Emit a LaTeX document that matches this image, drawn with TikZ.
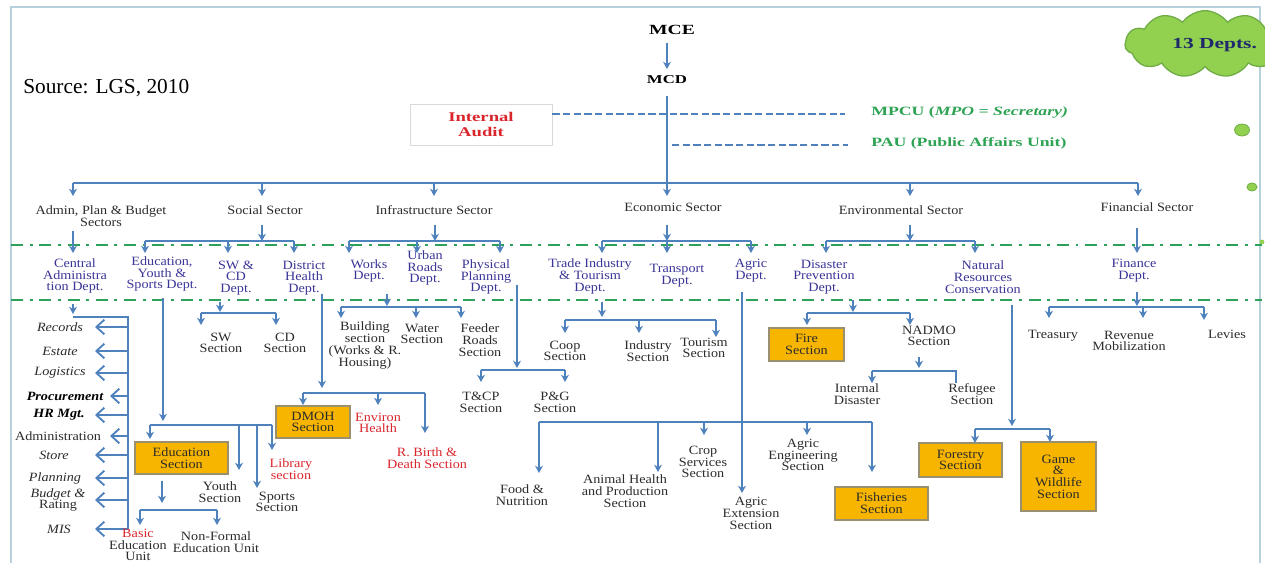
\documentclass[tikz,border=0pt]{standalone}
\usepackage{fontspec}
\setmainfont{Liberation Serif}[FakeStretch=1.12]
\newfontfamily\srcfont{Liberation Serif}
\newfontfamily\bwide{Liberation Serif}[FakeStretch=1.4]
\usetikzlibrary{arrows.meta,shapes.symbols}
\definecolor{cline}{HTML}{4F81BD}
\definecolor{gdash}{HTML}{2DA05A}
\definecolor{deptc}{HTML}{3A3596}
\definecolor{txt}{HTML}{2B2B2B}
\definecolor{redc}{HTML}{D9262C}
\definecolor{grn}{HTML}{2EA354}
\definecolor{boxf}{HTML}{F7B500}
\definecolor{boxb}{HTML}{9A9070}
\definecolor{cloudf}{HTML}{92D050}
\definecolor{cloudd}{HTML}{70AD47}
\definecolor{navy}{HTML}{1F2A6B}
\definecolor{framec}{HTML}{B7D0DE}
\begin{document}
\begin{tikzpicture}[x=0.75pt,y=-0.75pt,
  ln/.style={draw=cline, line width=1.4pt},
  arr/.style={ln, -{Stealth[length=5.5pt,width=6pt]}},
  barb/.style={ln, -{Straight Barb[length=6pt,width=11pt]}},
  dsh/.style={draw=cline, line width=1pt, dash pattern=on 5.5pt off 2.5pt},
  gdl/.style={draw=gdash, line width=2.2pt, dash pattern=on 9pt off 5pt on 2.2pt off 5pt},
  lab/.style={inner sep=0pt, align=center, text=txt, font=\fontsize{9.5}{8.8}\selectfont},
  dept/.style={lab, text=deptc},
  redl/.style={lab, text=redc},
  itl/.style={lab, font=\fontsize{9.5}{8.8}\selectfont\itshape},
  bil/.style={lab, text=black, font=\fontsize{9.5}{8.8}\selectfont\bfseries\itshape},
  obox/.style={draw=boxb, fill=boxf, line width=0.8pt, inner sep=0pt, align=center, text=txt, font=\fontsize{9.5}{8.8}\selectfont},
  hd/.style={inner sep=0pt, align=center, text=black, font={\bwide\bfseries\fontsize{10.5}{12}\selectfont}}
]
\useasboundingbox (0,0) rectangle (1265,563);
% frame
\draw[draw=framec, line width=0.8pt] (11,575) -- (11,7) -- (1260,7) -- (1260,575);

% cloud and bubbles
\node[cloud, cloud puffs=11, cloud puff arc=110, aspect=2.3, draw=cloudd, fill=cloudf, line width=1pt, minimum width=120pt, minimum height=50pt, inner sep=0pt] (cl) at (1205,44) {};
\node[anchor=west, inner sep=0pt, text=navy, font={\bwide\bfseries\fontsize{11.5}{14}\selectfont}] (deps) at (1172,45) {13 Depts.};
\fill[cloudf, draw=cloudd, line width=0.6pt] (1242,130) ellipse [x radius=5.6pt, y radius=4.5pt];
\fill[cloudf, draw=cloudd, line width=0.6pt] (1252,187) ellipse [x radius=3.8pt, y radius=3pt];
\fill[cloudf] (1262,242) circle [radius=1.8pt];

% green dash-dot separators
\draw[gdl] (11,245) -- (1262,245);
\draw[gdl] (11,300) -- (1262,300);

% top
\node[hd] (mce) at (672,30) {MCE};
\node[hd, font={\bwide\bfseries\fontsize{9}{11}\selectfont}] (mcd) at (667,80) {MCD};
\node[anchor=west, inner sep=0pt, text=black, font={\srcfont\fontsize{16}{19}\selectfont}] (src) at (23,88) {Source: LGS, 2010};
\node[draw=black!15, line width=0.6pt, minimum width=106.5pt, minimum height=30.75pt, inner sep=0pt, align=center, text=redc, font={\bwide\bfseries\fontsize{10}{11.25}\selectfont}] (audit) at (481,124.5) {Internal\\Audit};
\node[anchor=west, inner sep=0pt, text=grn, font={\bwide\bfseries\fontsize{9.5}{11}\selectfont}] (mpcu) at (871,112) {MPCU (\textit{MPO = Secretary)}};
\node[anchor=west, inner sep=0pt, text=grn, font={\bwide\bfseries\fontsize{9.5}{11}\selectfont}] (pau) at (871,143) {PAU (Public Affairs Unit)};

\draw[arr, shorten <=6pt, shorten >=5pt] (mcd.north |- mce.south) -- (mcd.north);
\path (845,114) coordinate (mpcuend) (672,145) coordinate (pausta) (848,145) coordinate (pauend);
\draw[dsh] (audit.east |- mpcuend) -- (mpcuend);
\draw[dsh] (pausta) -- (pauend);

% main bus
\path (667,183) coordinate (bus0) (73,183) coordinate (bus0L) (1138,183) coordinate (bus0R);
\path (73,196) coordinate (ts1) (262,196) coordinate (ts2) (434,196) coordinate (ts3)
      (667,196) coordinate (ts4) (910,196) coordinate (ts5) (1138,196) coordinate (ts6);
\draw[ln, shorten <=9pt] (mcd.south) -- (bus0);
\draw[ln] (bus0L) -- (bus0R);
\foreach \i in {1,...,6} \draw[arr] (ts\i |- bus0) -- (ts\i);

% sectors
\node[lab] (adm) at (101,216) {Admin, Plan \& Budget\\Sectors};
\node[lab] (soc) at (265,210) {Social Sector};
\node[lab] (inf) at (434,210) {Infrastructure Sector};
\node[lab] (eco) at (673,207) {Economic Sector};
\node[lab] (env) at (901,210) {Environmental Sector};
\node[lab] (fin) at (1147,207) {Financial Sector};

% departments
\node[dept] (cad) at (75,276) {Central\\Administra\\tion Dept.};
\node[dept] (eys) at (162,274) {Education,\\Youth \&\\Sports Dept.};
\node[dept] (swcd) at (236,278) {SW \&\\CD\\Dept.};
\node[dept] (dhd) at (304,278) {District\\Health\\Dept.};
\node[dept] (wd) at (369,271) {Works\\Dept.};
\node[dept] (urd) at (425,268) {Urban\\Roads\\Dept.};
\node[dept] (ppd) at (486,277) {Physical\\Planning\\Dept.};
\node[dept] (titd) at (590,276.5) {Trade Industry\\\& Tourism\\Dept.};
\node[dept] (trd) at (677,276) {Transport\\Dept.};
\node[dept] (agd) at (751,271) {Agric\\Dept.};
\node[dept] (dpd) at (824,277) {Disaster\\Prevention\\Dept.};
\node[dept] (nrc) at (983,277) {Natural\\Resources\\Conservation};
\node[dept] (fnd) at (1134,271) {Finance\\Dept.};

% sector -> department connectors
\path (73,253) coordinate (td1)
      (262,241) coordinate (sbus) (145,241) coordinate (sbL) (294,241) coordinate (sbR)
      (145,253) coordinate (td2) (228,253) coordinate (td3) (294,253) coordinate (td4)
      (435,241) coordinate (ibus) (349,241) coordinate (ibL) (500,241) coordinate (ibR)
      (349,253) coordinate (td5) (417,253) coordinate (td6) (500,253) coordinate (td7)
      (667,241) coordinate (ebus) (602,241) coordinate (ebL) (751,241) coordinate (ebR)
      (602,253) coordinate (td8) (667,253) coordinate (td9) (751,253) coordinate (td10)
      (910,241) coordinate (vbus) (826,241) coordinate (vbL) (975,241) coordinate (vbR)
      (826,253) coordinate (td11) (975,253) coordinate (td12)
      (1137,253) coordinate (td13);
\draw[arr, shorten <=3pt] (td1 |- adm.south) -- (td1);
\draw[arr, shorten <=8pt] (sbus |- soc.south) -- (sbus);
\draw[ln] (sbL) -- (sbR);
\foreach \i in {2,3,4} \draw[arr] (td\i |- sbus) -- (td\i);
\draw[arr, shorten <=8pt] (ibus |- inf.south) -- (ibus);
\draw[ln] (ibL) -- (ibR);
\foreach \i in {5,6,7} \draw[arr] (td\i |- ibus) -- (td\i);
\draw[arr, shorten <=10pt] (ebus |- eco.south) -- (ebus);
\draw[ln] (ebL) -- (ebR);
\foreach \i in {8,9,10} \draw[arr] (td\i |- ebus) -- (td\i);
\draw[arr, shorten <=8pt] (vbus |- env.south) -- (vbus);
\draw[ln] (vbL) -- (vbR);
\foreach \i in {11,12} \draw[arr] (td\i |- vbus) -- (td\i);
\draw[arr, shorten <=12pt] (td13 |- fin.south) -- (td13);

% ---------- Admin list ----------
\node[itl] (rec) at (60,327) {Records};
\node[itl] (est) at (60,351) {Estate};
\node[itl] (lgs) at (60,373) {Logistics};
\node[bil] (pro) at (65,396) {Procurement};
\node[bil] (hrm) at (59,415) {HR Mgt.};
\node[lab] (adn) at (58,436) {Administration};
\node[itl] (sto) at (54,455) {Store};
\node[itl] (pla) at (55,478) {Planning};
\node[lab] (bud) at (58,500) {\textit{Budget \&}\\Rating};
\node[itl] (mis) at (59,529) {MIS};
\path (73,314) coordinate (cadA) (128,317) coordinate (barT) (128,529) coordinate (barB)
      (95,0) coordinate (tipA) (110,0) coordinate (tipB);
\draw[arr, shorten <=8pt] (cadA |- cad.south) -- (cadA);
\draw[ln] (cadA |- barT) -- (barT) -- (barB);
\foreach \n in {rec,est,lgs,hrm,sto,pla,bud,mis} \draw[barb] (barT |- \n) -- (tipA |- \n);
\foreach \n in {pro,adn} \draw[barb] (barT |- \n) -- (tipB |- \n);

% ---------- Education ----------
\node[obox, minimum width=69.75pt, minimum height=24pt] (edusec) at (181.5,458) {Education\\Section};
\node[lab] (basic) at (138,545) {\textcolor{redc}{Basic}\\Education\\Unit};
\node[lab] (nfe) at (216,542) {Non-Formal\\Education Unit};
\node[lab] (youth) at (220,492) {Youth\\Section};
\node[lab] (sports) at (277,502) {Sports\\Section};
\node[redl] (lib) at (291,469) {Library\\section};
\path (163,421) coordinate (eA) (150,425) coordinate (ebus1) (272,425) coordinate (ebus2)
      (150,439) coordinate (te1) (239,470) coordinate (te2) (257,488) coordinate (te3) (272,450) coordinate (te4)
      (162,503) coordinate (te5) (140,510) coordinate (ubL) (217,510) coordinate (ubR)
      (140,525) coordinate (tu1) (217,525) coordinate (tu2);
\draw[arr, shorten <=5pt] (eA |- eys.south) -- (eA);
\draw[ln] (ebus1) -- (ebus2);
\foreach \i in {1,2,3,4} \draw[arr] (te\i |- ebus1) -- (te\i);
\draw[arr, shorten <=4.5pt] (te5 |- edusec.south) -- (te5);
\draw[ln] (ubL) -- (ubR);
\draw[arr] (ubL) -- (tu1);
\draw[arr] (ubR) -- (tu2);

% ---------- SW & CD ----------
\node[lab] (sws) at (221,343) {SW\\Section};
\node[lab] (cds) at (285,343) {CD\\Section};
\path (220,312) coordinate (tw0) (201,313) coordinate (wbL) (276,313) coordinate (wbR)
      (201,325) coordinate (tw1) (276,325) coordinate (tw2);
\draw[arr, shorten <=4.5pt] (tw0 |- swcd.south) -- (tw0);
\draw[ln] (wbL) -- (wbR);
\draw[arr] (wbL) -- (tw1);
\draw[arr] (wbR) -- (tw2);

% ---------- District Health ----------
\node[obox, minimum width=55.5pt, minimum height=24pt] (dmoh) at (313,422) {DMOH\\Section};
\node[redl] (envh) at (378,423) {Environ\\Health};
\node[redl] (rbd) at (427,458) {R. Birth \&\\Death Section};
\path (322,388) coordinate (th0) (303,393) coordinate (hbL) (425,393) coordinate (hbR)
      (303,405) coordinate (th1) (378,405) coordinate (th2) (425,433) coordinate (th3);
\draw[arr, shorten <=-1pt] (th0 |- dhd.south) -- (th0);
\draw[ln] (hbL) -- (hbR);
\foreach \i in {1,2,3} \draw[arr] (th\i |- hbL) -- (th\i);

% ---------- Works ----------
\node[lab] (bld) at (365,345.5) {Building\\section\\(Works \& R.\\Housing)};
\node[lab] (wat) at (422,334) {Water\\Section};
\node[lab] (fdr) at (480,340) {Feeder\\Roads\\Section};
\path (387,306) coordinate (tk0) (341,307) coordinate (kbL) (461,307) coordinate (kbR)
      (341,318) coordinate (tk1) (416,318) coordinate (tk2) (461,318) coordinate (tk3);
\draw[arr, shorten <=8pt] (tk0 |- wd.south) -- (tk0);
\draw[ln] (kbL) -- (kbR);
\foreach \i in {1,2,3} \draw[arr] (tk\i |- kbL) -- (tk\i);

% ---------- Physical Planning ----------
\node[lab] (tcp) at (481,402) {T\&CP\\Section};
\node[lab] (pg) at (555,402) {P\&G\\Section};
\path (517,368) coordinate (tp0) (481,370) coordinate (pbL) (565,370) coordinate (pbR)
      (481,382) coordinate (tp1) (565,382) coordinate (tp2);
\draw[arr, shorten <=6pt] (tp0 |- ppd.center) -- (tp0);
\draw[ln] (pbL) -- (pbR);
\draw[arr] (pbL) -- (tp1);
\draw[arr] (pbR) -- (tp2);

% ---------- Trade ----------
\node[lab] (coop) at (565,351) {Coop\\Section};
\node[lab] (ind) at (648,351) {Industry\\Section};
\node[lab] (tour) at (704,348) {Tourism\\Section};
\path (602,317) coordinate (tt0) (565,320) coordinate (tbL) (716,320) coordinate (tbR)
      (565,333) coordinate (tt1) (639,333) coordinate (tt2) (716,337) coordinate (tt3);
\draw[arr, shorten <=6pt] (tt0 |- titd.south) -- (tt0);
\draw[ln] (tbL) -- (tbR);
\foreach \i in {1,2,3} \draw[arr] (tt\i |- tbL) -- (tt\i);

% ---------- Agric ----------
\node[lab] (aext) at (751,513.5) {Agric\\Extension\\Section};
\node[lab] (food) at (522,495.5) {Food \&\\Nutrition};
\node[lab] (anim) at (625,491) {Animal Health\\and Production\\Section};
\node[lab] (crop) at (703,462) {Crop\\Services\\Section};
\node[lab] (aeng) at (803,455) {Agric\\Engineering\\Section};
\node[obox, minimum width=69.75pt, minimum height=24.75pt] (fish) at (881.5,503.5) {Fisheries\\Section};
\path (742,493) coordinate (tg0) (539,422) coordinate (gbL) (872,422) coordinate (gbR)
      (539,473) coordinate (tg1) (658,472) coordinate (tg2) (704,435) coordinate (tg3)
      (807,435) coordinate (tg4) (872,472) coordinate (tg5);
\draw[arr, shorten <=7pt] (tg0 |- agd.south) -- (tg0);
\draw[ln] (gbL) -- (gbR);
\foreach \i in {1,...,5} \draw[arr] (tg\i |- gbL) -- (tg\i);

% ---------- Disaster Prevention ----------
\node[obox, minimum width=56.25pt, minimum height=24.75pt] (fire) at (806.5,344.5) {Fire\\Section};
\node[lab] (nadmo) at (929,336) {NADMO\\Section};
\node[lab] (idis) at (857,394) {Internal\\Disaster};
\node[lab] (refu) at (972,394) {Refugee\\Section};
\path (853,312) coordinate (tz0) (807,313) coordinate (zbL) (910,313) coordinate (zbR)
      (807,325) coordinate (tz1) (910,325) coordinate (tz2)
      (919,368) coordinate (tn0) (872,371) coordinate (nbL) (956,371) coordinate (nbR)
      (872,383) coordinate (tn1) (956,383) coordinate (tn2);
\draw[arr, shorten <=4pt] (tz0 |- dpd.south) -- (tz0);
\draw[ln] (zbL) -- (zbR);
\draw[arr] (zbL) -- (tz1);
\draw[arr] (zbR) -- (tz2);
\draw[arr, shorten <=8pt] (tn0 |- nadmo.south) -- (tn0);
\draw[ln] (nbL) -- (nbR) -- (tn2);
\draw[arr] (nbL) -- (tn1);

% ---------- Natural Resources ----------
\node[obox, minimum width=62.25pt, minimum height=25.5pt] (fores) at (960.5,460) {Forestry\\Section};
\node[obox, minimum width=56.25pt, minimum height=51.75pt] (game) at (1058.5,476.5) {Game\\\&\\Wildlife\\Section};
\path (1012,426) coordinate (tr0) (975,429) coordinate (rbL) (1050,429) coordinate (rbR)
      (975,443) coordinate (tr1) (1050,442) coordinate (tr2);
\draw[arr, shorten <=9pt] (tr0 |- nrc.south) -- (tr0);
\draw[ln] (rbL) -- (rbR);
\draw[arr] (rbL) -- (tr1);
\draw[arr] (rbR) -- (tr2);

% ---------- Finance ----------
\node[lab] (trea) at (1053,336) {Treasury};
\node[lab] (rev) at (1129,341) {Revenue\\Mobilization};
\node[lab] (lev) at (1227,334) {Levies};
\path (1137,306) coordinate (tf0) (1049,307) coordinate (fbL) (1204,307) coordinate (fbR)
      (1049,318) coordinate (tf1) (1143,318) coordinate (tf2) (1204,320) coordinate (tf3);
\draw[arr, shorten <=7pt] (tf0 |- fnd.south) -- (tf0);
\draw[ln] (fbL) -- (fbR);
\foreach \i in {1,2,3} \draw[arr] (tf\i |- fbL) -- (tf\i);
\end{tikzpicture}
\end{document}
